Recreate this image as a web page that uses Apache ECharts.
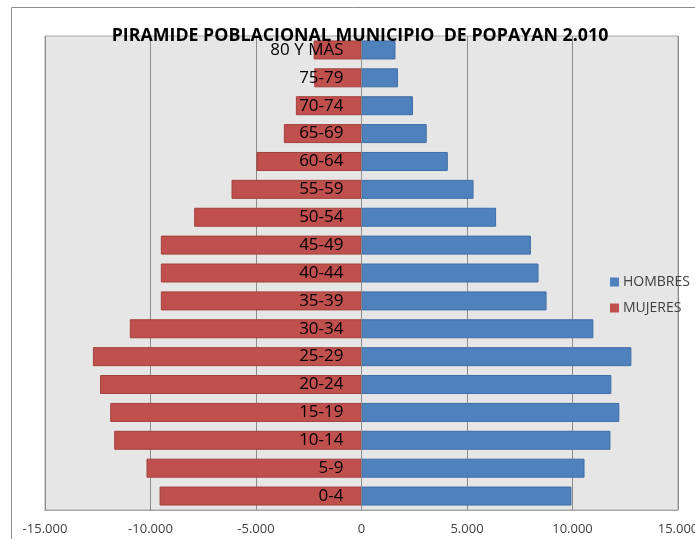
<!DOCTYPE html>
<html>
<head>
<meta charset="utf-8">
<script src="https://cdn.jsdelivr.net/npm/echarts@6/dist/echarts.min.js"></script>
<style>
  html, body { margin: 0; padding: 0; background: #fff; }
  #chart { width: 695px; height: 539px; }
</style>
</head>
<body>
<div id="chart"></div>
<script>
  // grupos de edad, de abajo hacia arriba
  const grupos = ['0-4', '5-9', '10-14', '15-19', '20-24', '25-29', '30-34', '35-39',
    '40-44', '45-49', '50-54', '55-59', '60-64', '65-69', '70-74', '75-79', '80 Y MÁS']
  const hombres = [9950, 10570, 11800, 12220, 11840, 12790, 10990, 8770,
    8390, 8030, 6380, 5310, 4090, 3090, 2440, 1730, 1610]
  const mujeres = [-9570, -10190, -11720, -11910, -12390, -12730, -10980, -9510,
    -9510, -9510, -7930, -6160, -4980, -3680, -3110, -2240, -2270]
  const ticksX = [-15000, -10000, -5000, 0, 5000, 10000, 15000]

  const fuente = 'Open Sans'

  const chart = echarts.init(document.getElementById('chart'))

  // separador de miles con punto
  const formatoMiles = (v) => {
    const s = Math.abs(v).toString().replace(/\B(?=(\d{3})+(?!\d))/g, '.')
    return v < 0 ? '-' + s : s
  }

  const gridLeft = 45
  const gridRight = 17
  // ancho del area de trazado, para llevar el eje de categorias hasta el cero
  const plotWidth = 695 - gridLeft - gridRight

  const option = {
    backgroundColor: '#ffffff',
    animation: false,
    textStyle: { fontFamily: fuente },
    graphic: [
      {
        type: 'rect',
        silent: true,
        shape: { x: 11.5, y: 7.5, width: 720, height: 560 },
        style: { fill: 'none', stroke: '#8c8c8c', lineWidth: 1 }
      },
      {
        type: 'text',
        z: 100,
        x: 360,
        y: 27,
        style: {
          text: 'PIRAMIDE POBLACIONAL MUNICIPIO  DE POPAYAN 2.010',
          textAlign: 'center',
          fontFamily: fuente,
          fontWeight: 'bold',
          fontSize: 17.8,
          fill: '#000'
        }
      }
    ],
    legend: {
      orient: 'vertical',
      left: 610,
      top: 275,
      padding: 0,
      itemWidth: 9,
      itemHeight: 9,
      itemGap: 12,
      itemStyle: { borderWidth: 0 },
      icon: 'rect',
      data: ['HOMBRES', 'MUJERES'],
      textStyle: { fontFamily: fuente, fontSize: 14, color: '#404040', padding: [0, 0, 0, -1] }
    },
    grid: {
      left: gridLeft,
      right: gridRight,
      top: 36,
      bottom: 29,
      outerBoundsMode: 'none',
      containLabel: false,
      show: true,
      backgroundColor: '#e6e6e6',
      borderColor: '#a6a6a6',
      borderWidth: 1
    },
    xAxis: {
      type: 'value',
      min: ticksX[0],
      max: ticksX[ticksX.length - 1],
      interval: 5000,
      axisLine: { show: true, lineStyle: { color: '#a6a6a6' } },
      axisTick: { show: false },
      splitLine: { show: true, lineStyle: { color: '#8c8c8c', width: 1 } },
      axisLabel: {
        margin: 13,
        fontFamily: fuente,
        fontSize: 13,
        color: '#404040',
        formatter: formatoMiles
      }
    },
    yAxis: {
      type: 'category',
      data: grupos,
      z: 10,
      position: 'left',
      offset: -plotWidth / 2,
      axisLine: { show: true, onZero: false, lineStyle: { color: '#8c8c8c' } },
      axisTick: { show: false },
      axisLabel: {
        margin: 18,
        fontFamily: fuente,
        fontSize: 17,
        color: '#000'
      }
    },
    series: [
      {
        name: 'HOMBRES',
        type: 'bar',
        stack: 'pir',
        barWidth: 19,
        data: hombres,
        itemStyle: { color: '#4f81bd', borderColor: '#3f6ea8', borderWidth: 1 }
      },
      {
        name: 'MUJERES',
        type: 'bar',
        stack: 'pir',
        barWidth: 19,
        data: mujeres,
        itemStyle: { color: '#c0504d', borderColor: '#a2403d', borderWidth: 1 }
      }
    ]
  }

  chart.setOption(option)
</script>
</body>
</html>
